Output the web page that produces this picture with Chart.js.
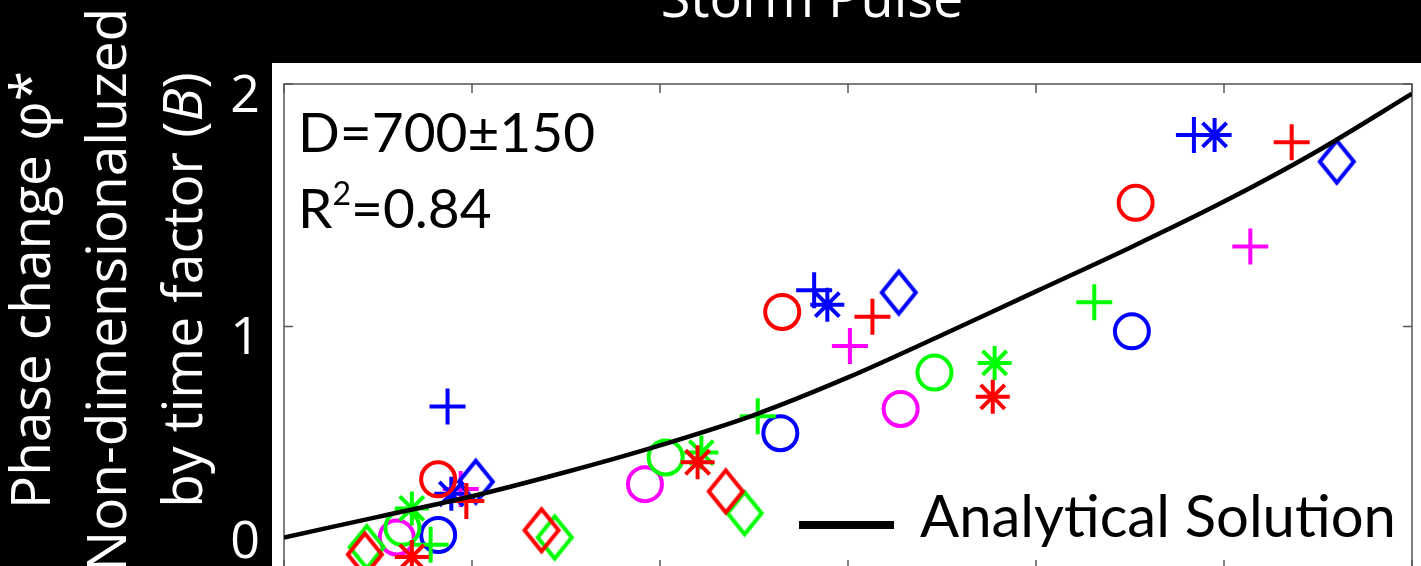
<!DOCTYPE html>
<html>
<head>
<meta charset="utf-8">
<script src="https://cdn.jsdelivr.net/npm/chart.js"></script>
<style>
html, body { margin: 0; padding: 0; background: #000; overflow: hidden; }
#wrap { position: relative; width: 1421px; height: 566px; overflow: hidden; background: #000; }
#paper { position: absolute; left: 272px; top: 63px; width: 1149px; height: 503px; background: #fff; }
#chartBox { position: absolute; left: 0; top: 0; }
.txt { position: absolute; white-space: nowrap; }
#title { left: 512px; top: -42px; width: 600px; text-align: center; font: 54px/76px "Open Sans"; color: #fff; }
#ylabel { left: -245px; top: 176px; width: 700px; height: 228px; text-align: center;
          font: 55px/76px "Open Sans"; color: #fff; transform: rotate(-90deg); }
.note { font: 55px/66px Lato; color: #000; }
.note sup { font-size: 32px; line-height: 0; position: relative; top: -4px; }
#legLine { position: absolute; left: 799px; top: 521px; width: 95px; height: 8px; background: #000; }
#legText { left: 920px; top: 480px; font: 58px/69.6px Lato; color: #000; }
</style>
</head>
<body>
<div id="wrap">
  <div id="paper"></div>
  <div id="chartBox"><canvas id="chart" width="1421" height="700"></canvas></div>
  <div id="title" class="txt">Storm Pulse</div>
  <div id="ylabel" class="txt">Phase change φ*<br>Non-dimensionaluzed<br>by time factor (<i>B</i>)</div>
  <div class="txt note" style="left:298px; top:98px;">D=700±150</div>
  <div class="txt note" style="left:298px; top:174px;">R<sup>2</sup>=0.84</div>
  <div id="legLine"></div>
  <div id="legText" class="txt">Analytical Solution</div>
</div>
<script>
// analytical solution
const curveX = [0, 0.5, 1, 1.5, 2, 2.5, 3, 3.5, 4, 4.5, 5, 5.5, 6];
const curveY = [0.13, 0.215, 0.30, 0.40, 0.51, 0.635, 0.79, 0.965, 1.145, 1.325, 1.515, 1.725, 1.96];

// measured points, one array per colour / marker
const redCircleX = [0.82, 2.65, 4.53],   redCircleY = [0.37, 1.06, 1.51];
const redPlusX = [0.97, 3.13, 5.36],     redPlusY = [0.28, 1.04, 1.76];
const redStarX = [0.68, 2.20, 3.77],     redStarY = [0.05, 0.44, 0.71];
const redDiamondX = [0.43, 1.37, 2.35],  redDiamondY = [0.06, 0.16, 0.32];

const greenCircleX = [0.63, 2.03, 3.46],  greenCircleY = [0.17, 0.46, 0.81];
const greenPlusX = [0.78, 2.52, 4.31],    greenPlusY = [0.10, 0.63, 1.10];
const greenStarX = [0.68, 2.22, 3.78],    greenStarY = [0.25, 0.48, 0.85];
const greenDiamondX = [0.44, 1.44, 2.45], greenDiamondY = [0.09, 0.13, 0.23];

const blueCircleX = [0.82, 2.64, 4.51],  blueCircleY = [0.14, 0.56, 0.98];
const bluePlusX = [0.87, 2.82, 4.84],    bluePlusY = [0.67, 1.15, 1.79];
const blueStarX = [0.89, 2.89, 4.95],    blueStarY = [0.31, 1.09, 1.79];
const blueDiamondX = [1.02, 3.27, 5.60], blueDiamondY = [0.36, 1.14, 1.68];

const magentaCircleX = [0.60, 1.92, 3.28], magentaCircleY = [0.13, 0.35, 0.66];
const magentaPlusX = [0.94, 3.01, 5.14],   magentaPlusY = [0.33, 0.92, 1.33];

const yTickLabels = {0: '0', 1: '1', 2: '2'};

function pts(xs, ys) {
    return xs.map((x, i) => ({x: x, y: ys[i]}));
}

// matlab style diamond (taller than wide)
function diamond(color) {
    const c = document.createElement('canvas');
    c.width = 42; c.height = 50;
    const g = c.getContext('2d');
    g.strokeStyle = color;
    g.lineWidth = 4;
    g.beginPath();
    g.moveTo(21, 4); g.lineTo(38, 25); g.lineTo(21, 46); g.lineTo(4, 25);
    g.closePath();
    g.stroke();
    return c;
}

function markers(xs, ys, color, shape) {
    const ds = {
        data: pts(xs, ys),
        borderColor: color,
        backgroundColor: 'rgba(0,0,0,0)',
        pointBorderWidth: 4,
        pointStyle: shape,
        pointRadius: 17,
        showLine: false,
        clip: false,
        order: 1
    };
    if (shape == 'cross') ds.pointRadius = 18;
    if (shape == 'diamond') ds.pointStyle = diamond(color);
    return ds;
}

const RED = '#ff0000', GREEN = '#00ff00', BLUE = '#0000ff', MAGENTA = '#ff00ff';

const datasets = [
    {
        label: 'Analytical Solution',
        data: pts(curveX, curveY),
        showLine: true,
        borderColor: '#000',
        borderWidth: 4.5,
        pointRadius: 0,
        tension: 0.3,
        order: 0
    },
    markers(redCircleX, redCircleY, RED, 'circle'),
    markers(redPlusX, redPlusY, RED, 'cross'),
    markers(redStarX, redStarY, RED, 'star'),
    markers(redDiamondX, redDiamondY, RED, 'diamond'),
    markers(greenCircleX, greenCircleY, GREEN, 'circle'),
    markers(greenPlusX, greenPlusY, GREEN, 'cross'),
    markers(greenStarX, greenStarY, GREEN, 'star'),
    markers(greenDiamondX, greenDiamondY, GREEN, 'diamond'),
    markers(blueCircleX, blueCircleY, BLUE, 'circle'),
    markers(bluePlusX, bluePlusY, BLUE, 'cross'),
    markers(blueStarX, blueStarY, BLUE, 'star'),
    markers(blueDiamondX, blueDiamondY, BLUE, 'diamond'),
    markers(magentaCircleX, magentaCircleY, MAGENTA, 'circle'),
    markers(magentaPlusX, magentaPlusY, MAGENTA, 'cross')
];

// box around the axes with inward ticks on all four sides
const boxPlugin = {
    id: 'box',
    beforeDatasetsDraw(chart) {
        const a = chart.chartArea, ctx = chart.ctx;
        const xs = chart.scales.x, ys = chart.scales.y;
        ctx.save();
        ctx.strokeStyle = '#555';
        ctx.lineWidth = 1.5;
        ctx.strokeRect(a.left, a.top, a.right - a.left, a.bottom - a.top);
        ctx.beginPath();
        xs.ticks.forEach(t => {
            const px = xs.getPixelForValue(t.value);
            ctx.moveTo(px, a.top); ctx.lineTo(px, a.top + 9);
            ctx.moveTo(px, a.bottom); ctx.lineTo(px, a.bottom - 9);
        });
        ys.ticks.forEach(t => {
            const py = ys.getPixelForValue(t.value);
            ctx.moveTo(a.left, py); ctx.lineTo(a.left + 9, py);
            ctx.moveTo(a.right, py); ctx.lineTo(a.right - 9, py);
        });
        ctx.stroke();
        ctx.restore();
    }
};

new Chart(document.getElementById('chart'), {
    type: 'scatter',
    data: { datasets: datasets },
    plugins: [boxPlugin],
    options: {
        responsive: false,
        animation: false,
        events: [],
        layout: { autoPadding: false, padding: { left: 0, top: 84, right: 9, bottom: 0 } },
        plugins: { legend: { display: false }, tooltip: { enabled: false } },
        scales: {
            x: {
                type: 'linear',
                min: 0, max: 6,
                ticks: { stepSize: 1, display: false },
                grid: { display: false, drawTicks: false },
                border: { display: false },
                afterFit: s => { s.height = 131; }
            },
            y: {
                type: 'linear',
                min: 0, max: 2,
                ticks: {
                    stepSize: 0.5,
                    color: '#fff',
                    padding: 24,
                    labelOffset: 13,
                    font: c => ({
                        family: 'Open Sans', size: 52,
                        lineHeight: (c.tick && c.tick.value === 0) ? 1.5 : 1.2
                    }),
                    // the 0 label sits higher in the original, push it up half a line
                    callback: v => v === 0 ? ['0', ''] : (yTickLabels[v] || '')
                },
                grid: { display: false, drawTicks: false },
                border: { display: false },
                afterFit: s => { s.width = 284; }
            }
        }
    }
});
</script>
</body>
</html>
